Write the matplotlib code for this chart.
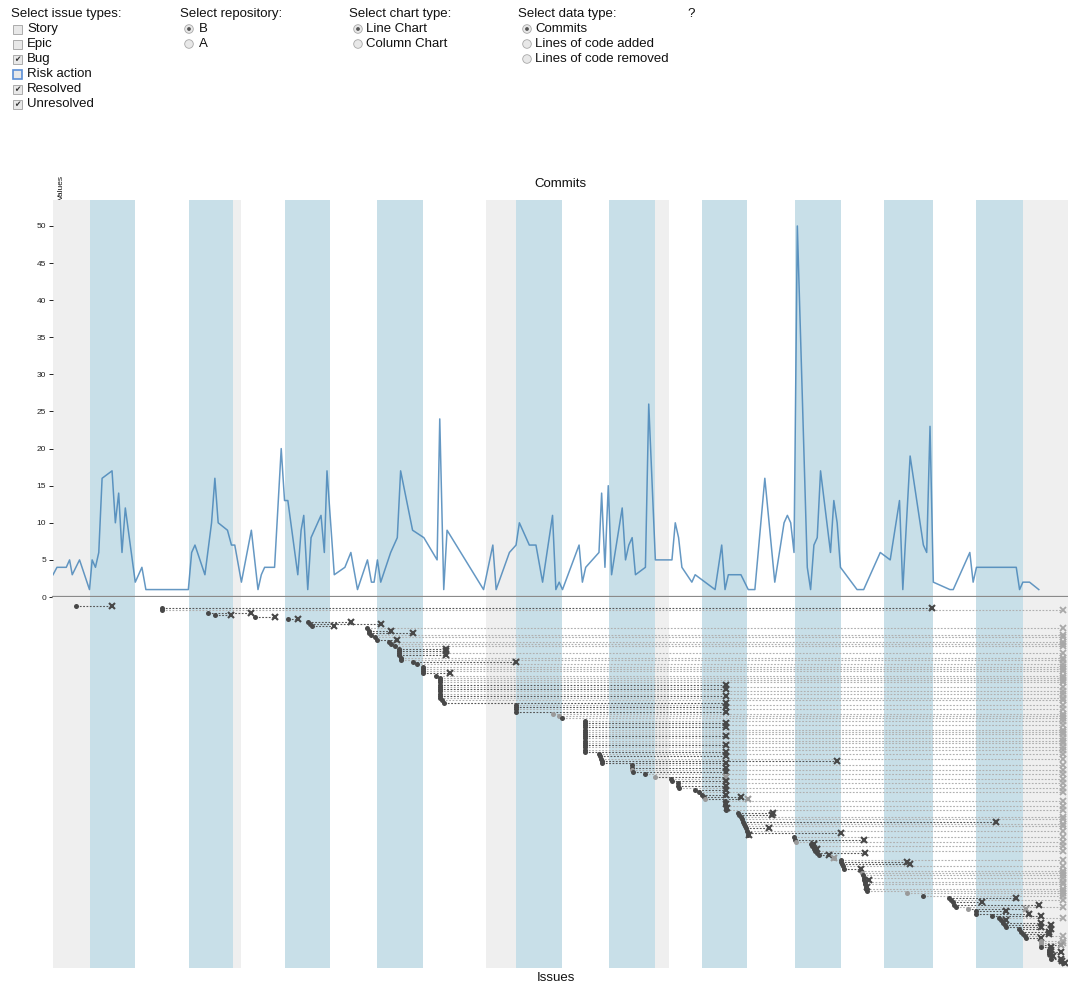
import matplotlib
matplotlib.use("Agg")
import matplotlib.pyplot as plt
from matplotlib.patches import Rectangle, Circle

plt.rcParams['font.family'] = ['Liberation Sans', 'DejaVu Sans']

# calendar bands, days from the start of the period
blue_weeks = [(5.6, 12.3), (20.5, 27.2), (34.9, 41.8), (48.9, 55.8), (69.8, 76.8),
              (83.8, 90.8), (97.8, 104.6), (111.8, 118.8), (125.2, 132.6), (139.1, 146.2)]
gray_days = [(0.0, 5.6), (27.2, 28.3), (65.3, 69.8), (90.8, 92.9), (146.2, 153.0)]

# commits per change (day, count)
commit_days = [0.0, 0.6, 2.0, 2.5, 2.9, 4.0, 5.5, 5.9, 6.4, 6.9,
               7.4, 8.9, 9.4, 9.9, 10.4, 10.9, 12.4, 13.4, 14.0, 20.4,
               20.9, 21.4, 22.9, 23.9, 24.4, 24.9, 26.3, 26.9, 27.4, 28.4,
               29.9, 30.9, 31.4, 31.9, 33.4, 34.4, 34.9, 35.4, 36.9, 37.4,
               37.8, 38.4, 38.9, 40.4, 40.9, 41.3, 42.4, 44.0, 44.9, 45.9,
               47.4, 48.0, 48.4, 48.9, 49.4, 50.9, 51.9, 52.4, 54.2, 55.9,
               57.9, 58.3, 58.9, 59.4, 64.9, 66.3, 66.8, 68.8, 69.8, 70.3,
               71.8, 72.8, 73.8, 75.3, 75.8, 76.3, 76.8, 79.3, 79.8, 80.3,
               82.3, 82.7, 83.2, 83.7, 84.2, 85.8, 86.3, 86.8, 87.3, 87.8,
               89.3, 89.8, 90.8, 93.3, 93.8, 94.3, 94.8, 96.3, 96.8, 99.8,
               100.8, 101.3, 101.8, 103.7, 104.8, 105.8, 107.3, 108.8, 110.2, 110.7,
               111.2, 111.7, 112.2, 113.7, 114.2, 114.7, 115.2, 115.7, 117.2, 117.7,
               118.2, 118.7, 121.2, 122.2, 124.7, 126.2, 127.6, 128.1, 129.2, 131.2,
               131.7, 132.2, 132.7, 135.2, 135.7, 138.2, 138.7, 139.2, 145.2, 145.7,
               146.2, 147.2, 148.6]
commit_counts = [3, 4, 4, 5, 3, 5, 1, 5, 4, 6,
                 16, 17, 10, 14, 6, 12, 2, 4, 1, 1,
                 6, 7, 3, 10, 16, 10, 9, 7, 7, 2,
                 9, 1, 3, 4, 4, 20, 13, 13, 3, 9,
                 11, 1, 8, 11, 6, 17, 3, 4, 6, 1,
                 5, 2, 2, 5, 2, 6, 8, 17, 9, 8,
                 5, 24, 1, 9, 1, 7, 1, 6, 7, 10,
                 7, 7, 2, 11, 1, 2, 1, 7, 2, 4,
                 6, 14, 4, 15, 3, 12, 5, 7, 8, 3,
                 4, 26, 5, 5, 10, 8, 4, 2, 3, 1,
                 7, 1, 3, 3, 1, 1, 16, 2, 10, 11,
                 10, 6, 50, 4, 1, 7, 8, 17, 6, 13,
                 10, 4, 1, 1, 6, 5, 13, 1, 19, 7,
                 6, 23, 2, 1, 1, 6, 2, 4, 4, 1,
                 2, 2, 1]

# issues, one row each: created day, resolved day (None = unresolved)
issue_created = [3.5, 16.4, 16.4, 23.3, 24.4, 30.4, 35.4, 38.4, 38.7, 39.0,
                 47.3, 47.6, 47.7, 48.0, 48.5, 48.9, 50.7, 51.0, 51.6, 52.2,
                 52.2, 52.2, 52.2, 52.4, 52.4, 54.3, 54.8, 55.8, 55.8, 55.8,
                 55.8, 57.8, 58.4, 58.4, 58.4, 58.4, 58.4, 58.4, 58.4, 58.4,
                 58.4, 58.4, 58.6, 58.9, 69.8, 69.8, 69.8, 69.8, 75.3, 76.3,
                 76.8, 80.2, 80.2, 80.2, 80.2, 80.2, 80.2, 80.2, 80.2, 80.2,
                 80.2, 80.2, 80.2, 80.2, 80.2, 80.2, 82.3, 82.5, 82.6, 82.8,
                 82.8, 87.3, 87.3, 87.3, 87.5, 89.3, 90.8, 93.2, 93.3, 94.2,
                 94.2, 94.4, 96.8, 97.4, 97.8, 98.1, 98.3, 101.3, 101.3, 101.5,
                 101.5, 101.5, 103.3, 103.4, 103.7, 103.9, 104.0, 104.2, 104.3, 104.5,
                 104.6, 104.8, 104.8, 111.7, 111.8, 112.0, 114.3, 114.4, 114.7, 114.9,
                 115.2, 115.5, 117.7, 118.8, 118.8, 118.9, 119.1, 119.2, 121.8, 121.9,
                 122.1, 122.2, 122.2, 122.4, 122.4, 122.5, 122.5, 122.7, 128.7, 131.1,
                 135.0, 135.3, 135.6, 135.8, 136.1, 138.0, 139.1, 139.1, 141.6, 142.6,
                 142.9, 143.2, 143.5, 143.6, 145.6, 145.9, 146.2, 146.5, 146.6, 149.0,
                 149.0, 149.0, 149.0, 150.1, 150.1, 150.2, 150.4, 150.5, 152.0, 152.3]
issue_resolved = [8.9, 132.5, None, 29.8, 26.8, 33.4, 36.9, 44.9, 49.4, 42.3,
                  None, 50.9, 54.3, None, None, 51.8, None, None, None, 59.3,
                  59.3, None, 59.2, None, None, 69.8, None, None, None, None,
                  59.9, None, None, None, None, 101.5, None, 101.5, None, None,
                  101.5, None, None, 101.5, None, 101.5, None, 101.5, None, None,
                  None, None, 101.5, None, 101.5, None, None, None, 101.5, None,
                  None, None, 101.5, None, None, 101.5, None, 101.5, None, 118.2,
                  101.5, None, 101.5, None, 101.5, None, 101.5, None, 101.5, None,
                  101.5, None, 101.5, None, 101.5, 103.7, 104.8, None, 101.5, None,
                  101.6, None, 108.5, 108.4, None, None, 142.1, None, None, 107.9,
                  None, 118.8, 104.9, None, 122.2, None, 114.7, None, 115.2, None,
                  122.4, 117.0, 117.8, None, 128.7, 129.2, None, 121.8, None, None,
                  None, None, 123.0, None, None, 122.7, None, None, None, None,
                  145.1, None, 140.0, 148.6, None, 146.6, 143.6, 147.1, 149.0, None,
                  143.6, 149.0, 150.5, 149.0, 150.5, 150.1, 150.1, None, 149.0, None,
                  None, 152.0, 150.5, 150.5, 152.0, 150.5, 150.8, 152.0, 152.1, 152.5]
faded_issues = [48, 49, 73, 76, 86, 105, 112, 119, 128, 135, 149, 150, 151]
today = 152.2

issue_types = ['Story', 'Epic', 'Bug', 'Risk action', 'Resolved', 'Unresolved']
issue_checked = [False, False, True, False, True, True]
repositories = ['B', 'A']
chart_types = ['Line Chart', 'Column Chart']
data_types = ['Commits', 'Lines of code added', 'Lines of code removed']

BLUE_BAND = '#c8dfe8'
GRAY_BAND = '#efefef'

fig = plt.figure(figsize=(10.68, 9.86), dpi=100)

# page overlay in pixel units for the form controls
ui = fig.add_axes([0, 0, 1, 1])
ui.set_xlim(0, 1068)
ui.set_ylim(986, 0)
ui.axis('off')


def label(x, y, s):
    ui.text(x, y, s, fontsize=9.5, color='#111', ha='left', va='center')


def checkbox(x, y, checked, focus=False):
    ec = '#5b8fd6' if focus else '#a0a0a0'
    ui.add_patch(Rectangle((x - 4.5, y - 4.5), 9, 9, fc='#e8e8e8', ec=ec,
                           lw=1.2 if focus else 0.6))
    if checked:
        ui.text(x, y + 0.5, '\u2714', fontsize=5.5, color='#333', ha='center',
                va='center', family='DejaVu Sans')


def radio(x, y, checked):
    ui.add_patch(Circle((x, y), 4.3, fc='#e8e8e8', ec='#a8a8a8', lw=0.6))
    if checked:
        ui.add_patch(Circle((x, y), 1.9, fc='#555', ec='none'))


label(11, 14, 'Select issue types:')
for i, name in enumerate(issue_types):
    checkbox(17.5, 29 + 15 * i, issue_checked[i], focus=(name == 'Risk action'))
    label(27, 29 + 15 * i, name)

label(180, 14, 'Select repository:')
for i, name in enumerate(repositories):
    radio(189, 29 + 15 * i, i == 0)
    label(199, 29 + 15 * i, name)

label(349, 14, 'Select chart type:')
for i, name in enumerate(chart_types):
    radio(358, 29 + 15 * i, i == 0)
    label(366, 29 + 15 * i, name)

label(518, 14, 'Select data type:')
for i, name in enumerate(data_types):
    radio(527, 29 + 15 * i, i == 0)
    label(535, 29 + 15 * i, name)

label(687, 14, '?')

ui.text(560, 184, 'Commits', fontsize=9.5, ha='center', va='center', color='#111')
ui.text(556, 978, 'Issues', fontsize=9.5, ha='center', va='center', color='#111')
ui.text(61, 200, 'Values', fontsize=6, rotation=90, ha='center', va='bottom', color='#111')


def bands(ax):
    for a, b in gray_days:
        ax.axvspan(a, b, color=GRAY_BAND, lw=0, zorder=0)
    for a, b in blue_weeks:
        ax.axvspan(a, b, color=BLUE_BAND, lw=0, zorder=0)


# commits line chart
ax1 = fig.add_axes([53 / 1068, 1 - 597 / 986, 1015 / 1068, 397 / 986])
bands(ax1)
ax1.plot(commit_days, commit_counts, color='#3f7fb5', lw=1.1, alpha=0.8, zorder=2)
ax1.axhline(0, color='#8a8a8a', lw=1.6, zorder=3, clip_on=False)
ax1.set_xlim(0, 153)
ax1.set_ylim(0, 53.5)
ax1.set_xticks([])
ax1.set_yticks(range(0, 51, 5))
ax1.tick_params(axis='y', labelsize=6, length=3, width=0.7, pad=2, colors='#222')
for s in ax1.spines.values():
    s.set_visible(False)

# issue timeline
ax2 = fig.add_axes([53 / 1068, 1 - 968 / 986, 1015 / 1068, 371 / 986])
bands(ax2)
n = len(issue_created)
for i in range(n):
    c = issue_created[i]
    r = issue_resolved[i]
    dot = '#9a9a9a' if i in faded_issues else '#484848'
    if r is None:
        ax2.plot([c, today], [i, i], color='#b0b0b0', lw=0.8,
                 linestyle=(0, (1.6, 1.4)), zorder=1)
        ax2.plot(today, i, marker='x', ms=4.5, mew=1.3, color='#a8a8a8', zorder=2)
    else:
        ax2.plot([c, r], [i, i], color='#555555', lw=0.8,
                 linestyle=(0, (1.6, 1.4)), zorder=1)
        ax2.plot(r, i, marker='x', ms=4.5, mew=1.5, color=dot, zorder=3)
    ax2.plot(c, i, marker='o', ms=3.6, color=dot, mec='none', zorder=3)
ax2.set_xlim(0, 153)
ax2.set_ylim(n - 1 + 2.2, -4.0)
ax2.set_xticks([])
ax2.set_yticks([])
for s in ax2.spines.values():
    s.set_visible(False)

fig.savefig('out.png', dpi=100, facecolor='white')
